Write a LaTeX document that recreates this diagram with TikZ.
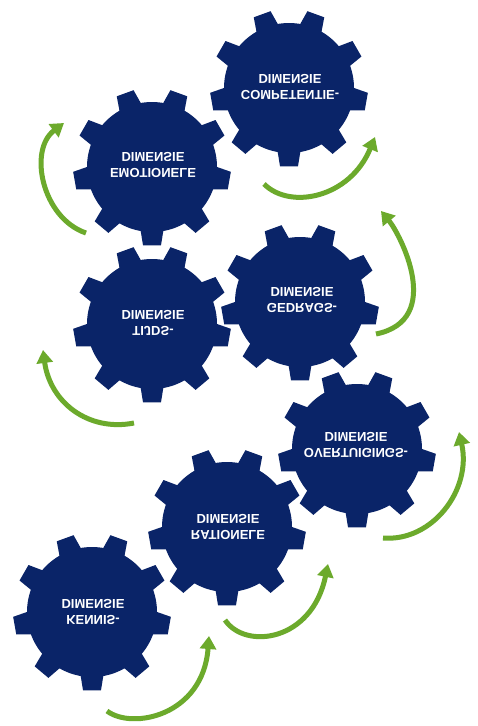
\documentclass[tikz,border=0pt]{standalone}
\usepackage{fontspec}
\setmainfont{Liberation Sans}
\usetikzlibrary{arrows.meta}
\definecolor{gearblue}{RGB}{10,36,104}
\definecolor{arrowgreen}{RGB}{108,170,44}
\tikzset{
  gearlabel/.style={text=white, font=\bfseries\fontsize{13}{16}\selectfont, align=center, yscale=-1, inner sep=0pt},
  cyclearrow/.style={draw=arrowgreen, line width=5pt, -{Triangle[length=13pt,width=16pt]}},
  gearfill/.style={fill=gearblue},
}
\newcommand{\drawgear}[2]{%
  \begin{scope}[shift={(#1,#2)}]
    \fill[gearfill] (0,0) circle (65);
    \foreach \a in {90,130,...,410} {
      \fill[gearfill] ({\a-11}:62) -- ({\a-6.5}:79) -- ({\a+6.5}:79) -- ({\a+11}:62) -- cycle;
    }
  \end{scope}}
\begin{document}
\begin{tikzpicture}[x=1pt,y=-1pt]
  \useasboundingbox (0,0) rectangle (478,726);
  \fill[white] (0,0) rectangle (478,726);
  % gears
  \drawgear{289}{88}
  \drawgear{152}{167}
  \drawgear{152}{324}
  \drawgear{300}{302}
  \drawgear{357}{449}
  \drawgear{227}{527}
  \drawgear{92}{612}
  % labels
  \node[gearlabel] (competentie) at (290,87) {COMPETENTIE-\\DIMENSIE};
  \node[gearlabel] (emotionele) at (153,165) {EMOTIONELE\\DIMENSIE};
  \node[gearlabel] (tijds) at (153,323) {TIJDS-\\DIMENSIE};
  \node[gearlabel] (gedrags) at (302,300) {GEDRAGS-\\DIMENSIE};
  \node[gearlabel] (overtuigings) at (356,445) {OVERTUIGINGS-\\DIMENSIE};
  \node[gearlabel] (rationele) at (228,527) {RATIONELE\\DIMENSIE};
  \node[gearlabel] (kennis) at (93,612) {KENNIS-\\DIMENSIE};
  % arrow end points
  \coordinate (a1) at (264,184); \coordinate (a2) at (375,137);
  \coordinate (b1) at (86,233);  \coordinate (b2) at (64,123);
  \coordinate (c1) at (376,334); \coordinate (c2) at (381,211);
  \coordinate (d1) at (134,423); \coordinate (d2) at (43,350);
  \coordinate (e1) at (383,538); \coordinate (e2) at (459,432);
  \coordinate (f1) at (225,620); \coordinate (f2) at (328,564);
  \coordinate (g1) at (107,711); \coordinate (g2) at (209,636);
  % arrows
  \draw[cyclearrow] (a1) .. controls (290,210) and (350,198) .. (a2);
  \draw[cyclearrow] (b1) .. controls (42,218) and (28,150) .. (b2);
  \draw[cyclearrow] (c1) .. controls (445,320) and (400,234) .. (c2);
  \draw[cyclearrow] (d1) .. controls (88,432) and (50,402) .. (d2);
  \draw[cyclearrow] (e1) .. controls (432,542) and (472,490) .. (e2);
  \draw[cyclearrow] (f1) .. controls (245,650) and (312,642) .. (f2);
  \draw[cyclearrow] (g1) .. controls (132,730) and (203,716) .. (g2);
\end{tikzpicture}
\end{document}
